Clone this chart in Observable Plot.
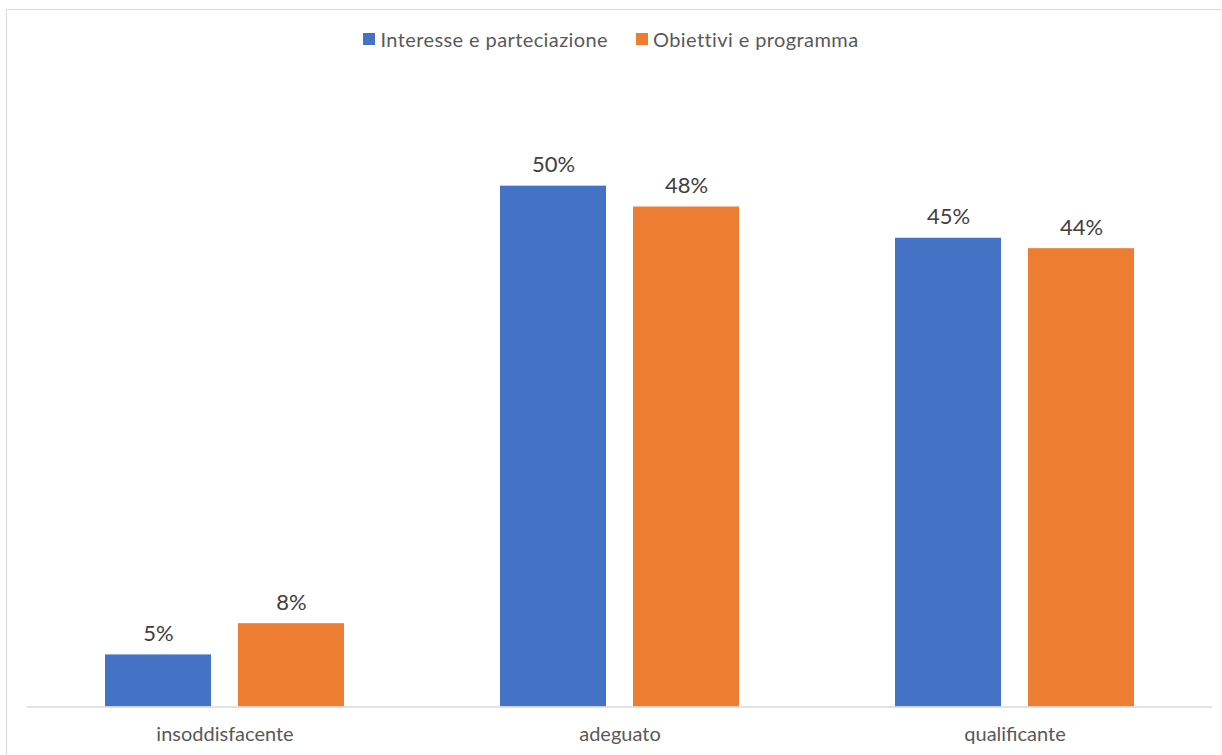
<!DOCTYPE html>
<html>
<head>
<meta charset="utf-8">
<script src="https://cdn.jsdelivr.net/npm/d3@7"></script>
<script src="https://cdn.jsdelivr.net/npm/@observablehq/plot@0.6"></script>
<style>
  html, body { margin: 0; padding: 0; background: #fff; overflow: hidden; width: 1222px; height: 755px; }
  #frame { position: absolute; left: 6px; top: 9px; width: 1300px; height: 900px; border: 1.5px solid #d9d9d9; box-sizing: border-box; }
  #legend { position: absolute; left: 0; top: 0; width: 1222px; height: 70px; display: flex; justify-content: center; align-items: center; padding-top: 10px; box-sizing: border-box; font-family: Lato, "Open Sans", sans-serif; font-size: 20px; letter-spacing: 0.4px; color: #595959; }
  #legend .item { display: flex; align-items: center; margin: 0 14px; position: relative; top: -1px; }
  #legend .sw { width: 12px; height: 12px; margin-right: 5px; }
  #chart { position: absolute; left: 0; top: 70px; }
</style>
</head>
<body>
<div id="frame"></div>
<div id="legend"></div>
<div id="chart"></div>
<script>
const categories = ["insoddisfacente", "adeguato", "qualificante"];
const seriesNames = ["Interesse e parteciazione", "Obiettivi e programma"];
const seriesColors = ["#4472C4", "#ED7D31"];
const interesse = [5, 50, 45];
const obiettivi = [8, 48, 44];

const data = [];
categories.forEach((c, i) => {
  data.push({category: c, series: seriesNames[0], value: interesse[i]});
  data.push({category: c, series: seriesNames[1], value: obiettivi[i]});
});

const legend = document.getElementById("legend");
seriesNames.forEach((s, i) => {
  const it = document.createElement("div");
  it.className = "item";
  const sw = document.createElement("div");
  sw.className = "sw";
  sw.style.background = seriesColors[i];
  const t = document.createElement("span");
  t.textContent = s;
  it.appendChild(sw); it.appendChild(t);
  legend.appendChild(it);
});

const chart = Plot.plot({
  width: 1222,
  height: 685,
  marginLeft: 26,
  marginRight: 10,
  marginTop: 11.5,
  marginBottom: 48.5,
  style: {fontFamily: "Lato, 'Open Sans', sans-serif", color: "#595959", background: "transparent"},
  fx: {domain: categories, padding: 0, label: null},
  x: {domain: seriesNames, paddingInner: 0.2, paddingOuter: 0.58, axis: null},
  y: {domain: [0, 60], axis: null},
  color: {domain: seriesNames, range: seriesColors},
  marks: [
    Plot.barY(data, {fx: "category", x: "series", y: "value", fill: "series"}),
    Plot.ruleY([0], {stroke: "#d9d9d9", strokeWidth: 1.5}),
    Plot.text(data, {fx: "category", x: "series", y: "value", text: d => d.value + "%", lineAnchor: "bottom", dy: -14, fontSize: 22, fill: "#404040", style: "letter-spacing:0.5px"}),
    Plot.axisFx({anchor: "bottom", tickSize: 0, tickPadding: 20, fontSize: 20, label: null, style: "letter-spacing:0.6px"})
  ]
});
document.getElementById("chart").appendChild(chart);
</script>
</body>
</html>
